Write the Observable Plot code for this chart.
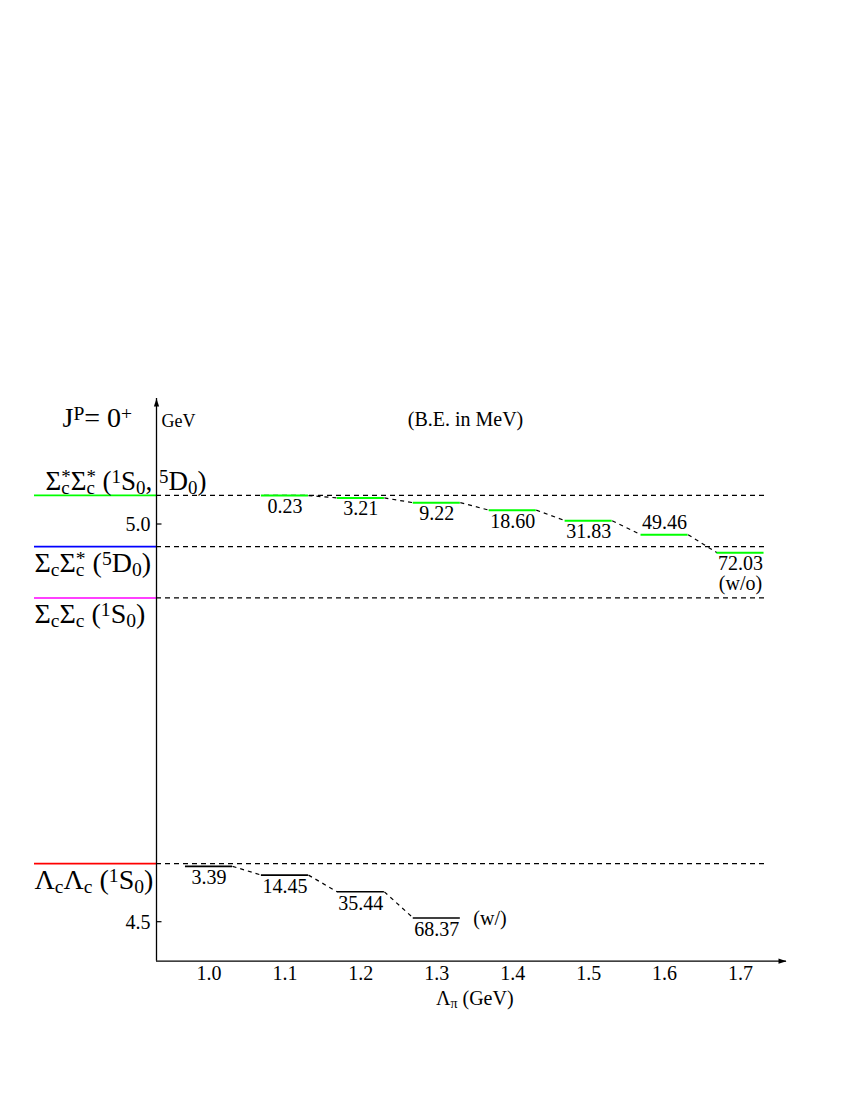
<!DOCTYPE html>
<html><head><meta charset="utf-8">
<script src="https://cdn.jsdelivr.net/npm/d3@7"></script>
<script src="https://cdn.jsdelivr.net/npm/@observablehq/plot@0.6"></script>
<style>body{margin:0;background:#fff} svg text{font-family:"Liberation Serif","Times New Roman",serif !important;}</style>
</head><body>
<script>
// ---- data ----
const thresholdNames = [
  "Σ_{c}^{*}Σ_{c}^{*} (^{1}S_{0}, ^{5}D_{0})",
  "Σ_{c}Σ_{c}^{*} (^{5}D_{0})",
  "Σ_{c}Σ_{c} (^{1}S_{0})",
  "Λ_{c}Λ_{c} (^{1}S_{0})"
];
const thresholdMass = [5.036, 4.9715, 4.907, 4.573]; // GeV
const thresholdColors = ["#00ff00", "#0000ff", "#ff00ff", "#ff0000"];

const lambdaPiLL = [1.0, 1.1, 1.2, 1.3];           // with coupled channels (w/)
const beLL = [3.39, 14.45, 35.44, 68.37];          // MeV below ΛcΛc
const lambdaPiSS = [1.1, 1.2, 1.3, 1.4, 1.5, 1.6, 1.7]; // (w/o)
const beSS = [0.23, 3.21, 9.22, 18.60, 31.83, 49.46, 72.03]; // MeV below Σc*Σc*

const xTicks = [1.0, 1.1, 1.2, 1.3, 1.4, 1.5, 1.6, 1.7];
const xTickLabels = ["1.0", "1.1", "1.2", "1.3", "1.4", "1.5", "1.6", "1.7"];
const yTicks = [4.5, 5.0];
const yTickLabels = ["4.5", "5.0"];

// ---- layout ----
const SERIF = "Liberation Serif";
const X_DOMAIN = [1.0, 1.7], X_RANGE = [208.5, 740];
const Y_DOMAIN = [4.5, 5.0], Y_RANGE = [921.2, 523.5];
const sx = d3.scaleLinear(X_DOMAIN, X_RANGE), sy = d3.scaleLinear(Y_DOMAIN, Y_RANGE);
const axisX = sx.invert(156), axisY = sy.invert(960.7);
const yTip = sy.invert(398), xTip = sx.invert(786);
const dashEnd = sx.invert(764), leftStart = sx.invert(34);
const tickEnd = sx.invert(161);
const hw = 0.031;

const thr = thresholdNames.map((n, i) => ({name: n, m: thresholdMass[i], color: thresholdColors[i]}));
const levLL = lambdaPiLL.map((x, i) => ({x, be: beLL[i], m: thresholdMass[3] - beLL[i] / 1000}));
const levSS = lambdaPiSS.map((x, i) => ({x, be: beSS[i], m: thresholdMass[0] - beSS[i] / 1000}));
const pairs = lev => lev.slice(1).map((d, i) => ({x1: lev[i].x + hw, y1: lev[i].m, x2: d.x - hw, y2: d.m}));

const arrowHead = {draw(ctx) { ctx.moveTo(0, 0); ctx.lineTo(2.6, 8); ctx.lineTo(-2.6, 8); ctx.closePath(); }};
const lastSS = levSS[levSS.length - 1];
const lastLL = levLL[levLL.length - 1];
const T = o => ({fontFamily: SERIF, fill: "black", ...o});

const svg = Plot.plot({
  width: 850, height: 1100, margin: 0,
  style: {fontFamily: SERIF, fontSize: "20px", background: "white", overflow: "visible"},
  x: {domain: X_DOMAIN, range: X_RANGE, axis: null},
  y: {domain: Y_DOMAIN, range: Y_RANGE, axis: null},
  color: {type: "identity"},
  marks: [
    // thresholds
    Plot.ruleY(thr, {y: "m", x1: leftStart, x2: axisX, stroke: d => d.color, strokeWidth: 1.6}),
    Plot.ruleY(thr, {y: "m", x1: axisX, x2: dashEnd, stroke: "black", strokeWidth: 1.2, strokeDasharray: "5,4"}),
    // connectors
    Plot.link(pairs(levLL), {x1: "x1", y1: "y1", x2: "x2", y2: "y2", stroke: "black", strokeWidth: 1.2, strokeDasharray: "4,4"}),
    Plot.link(pairs(levSS), {x1: "x1", y1: "y1", x2: "x2", y2: "y2", stroke: "black", strokeWidth: 1.2, strokeDasharray: "4,4"}),
    // levels
    Plot.ruleY(levLL, {y: "m", x1: d => d.x - hw, x2: d => d.x + hw, stroke: "black", strokeWidth: 1.6}),
    Plot.ruleY(levSS, {y: "m", x1: d => d.x - hw, x2: d => d.x + hw, stroke: "#00ff00", strokeWidth: 2}),
    // BE labels
    Plot.text(levLL, T({x: "x", y: "m", text: d => d.be.toFixed(2), lineAnchor: "top", dy: 3.5, fontSize: 20})),
    Plot.text(levSS.filter(d => d.be !== 49.46), T({x: "x", y: "m", text: d => d === lastSS ? d.be.toFixed(2) + "\n(w/o)" : d.be.toFixed(2), lineAnchor: "top", dy: 3.5, lineHeight: 0.98, fontSize: 20})),
    Plot.text(levSS.filter(d => d.be === 49.46), T({x: "x", y: "m", text: d => d.be.toFixed(2), lineAnchor: "bottom", dy: -6, fontSize: 20})),
    Plot.text([lastLL], T({x: d => d.x + hw, y: "m", text: () => "(w/)", textAnchor: "start", dx: 13, dy: 1, fontSize: 20})),
    // axes
    Plot.ruleX([axisX], {y1: axisY, y2: yTip, stroke: "black", strokeWidth: 1.3}),
    Plot.ruleY([axisY], {x1: axisX, x2: xTip, stroke: "black", strokeWidth: 1.3}),
    Plot.dot([{x: axisX, y: yTip, r: 0}, {x: xTip, y: axisY, r: 90}], {x: "x", y: "y", rotate: "r", symbol: arrowHead, fill: "black", stroke: "none", r: 4}),
    Plot.link(yTicks, {x1: axisX, x2: tickEnd, y1: d => d, y2: d => d, stroke: "black", strokeWidth: 1.2}),
    Plot.text(yTicks, T({x: axisX, y: d => d, text: (d, i) => yTickLabels[i], textAnchor: "end", dx: -6, dy: 1, fontSize: 20})),
    Plot.text(xTicks, T({x: d => d, y: axisY, text: (d, i) => xTickLabels[i], lineAnchor: "top", dy: 5, fontSize: 20})),
    // titles
    Plot.text(["GeV"], T({x: axisX, y: yTip, text: d => d, textAnchor: "start", lineAnchor: "bottom", dx: 5, dy: 28, fontSize: 18})),
    Plot.text(["(B.E. in MeV)"], T({x: sx.invert(465), y: yTip, text: d => d, lineAnchor: "bottom", dy: 27, fontSize: 20})),
    Plot.text(["J^{P}= 0^{+}"], T({x: leftStart, y: yTip, text: d => d, textAnchor: "start", lineAnchor: "bottom", dx: 28, dy: 28, fontSize: 28})),
    Plot.text(["Λ_{π} (GeV)"], T({x: (X_DOMAIN[0] + X_DOMAIN[1]) / 2, y: axisY, text: d => d, lineAnchor: "bottom", dy: 44, fontSize: 20})),
    // threshold labels
    Plot.text(thr.slice(0, 1), T({x: leftStart, y: "m", text: "name", textAnchor: "start", lineAnchor: "bottom", dx: 11, dy: -5.5, fontSize: 27})),
    Plot.text(thr.slice(1), T({x: leftStart, y: "m", text: "name", textAnchor: "start", lineAnchor: "bottom", dy: 25, fontSize: 28}))
  ]
});
document.body.append(svg);

// turn _{..} / ^{..} markup into sub/superscript tspans
function richify(root) {
  root.querySelectorAll("text").forEach(el => {
    const s = el.textContent;
    if (!/[_^]\{/.test(s)) return;
    const F = parseFloat(getComputedStyle(el).fontSize);
    el.textContent = "";
    el.style.whiteSpace = "pre";
    const re = /([_^])\{([^}]*)\}|([^_^]+)/g;
    let m, cur = 0, prev = null, prevKind = null;
    while ((m = re.exec(s))) {
      const kind = m[1] === "_" ? "sub" : m[1] === "^" ? "sup" : "n";
      const str = m[1] ? m[2] : m[3];
      const t = document.createElementNS("http://www.w3.org/2000/svg", "tspan");
      const shift = kind === "sub" ? 0.15 * F : kind === "sup" ? -0.24 * F : 0;
      t.setAttribute("dy", shift - cur); cur = shift;
      if (kind !== "n") t.setAttribute("font-size", 0.7 * F);
      t.textContent = str;
      el.appendChild(t);
      if (kind === "sup" && prevKind === "sub") t.setAttribute("dx", -prev.getComputedTextLength());
      prev = t; prevKind = kind;
    }
  });
}
richify(svg);
</script>
</body></html>
